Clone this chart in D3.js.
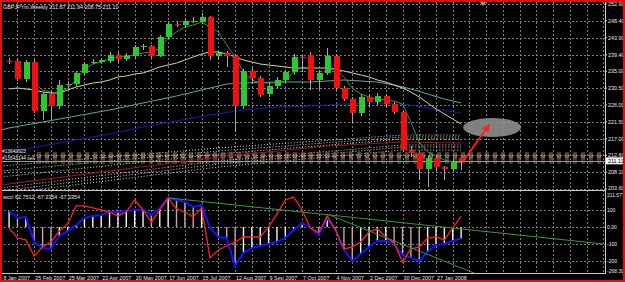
<!DOCTYPE html>
<html>
<head>
<meta charset="utf-8">
<script src="https://cdn.jsdelivr.net/npm/d3@7"></script>
<style>
body { margin: 0; background: #000; overflow: hidden; }
svg { display: block; font-family: "Liberation Sans", Arial, sans-serif; }
</style>
</head>
<body>
<div id="chart"></div>
<script>
const width = 625;
const height = 282;

// weekly candles, [open, high, low, close]
const candles = [
    [237.8, 238.4, 236.9, 237.6], [237.7, 238.5, 232.3, 232.9], [232.9, 238.0, 232.0, 237.4],
    [237.4, 238.2, 223.8, 224.4], [224.4, 229.5, 222.0, 228.9], [228.9, 229.6, 222.0, 225.7],
    [225.7, 232.6, 225.0, 231.3], [231.3, 232.4, 230.6, 231.6], [231.6, 235.0, 231.0, 234.5],
    [234.5, 237.5, 234.0, 236.9], [237.3, 238.3, 236.8, 237.5], [237.4, 238.5, 236.9, 238.0],
    [237.7, 240.0, 237.2, 239.3], [239.3, 240.0, 237.5, 238.2], [238.2, 239.8, 237.6, 239.0],
    [239.0, 242.0, 238.5, 241.4], [241.6, 242.2, 240.6, 241.7], [241.7, 242.0, 238.6, 239.0],
    [239.0, 244.6, 238.7, 244.1], [244.1, 248.0, 243.6, 247.6], [247.6, 248.2, 246.8, 247.3],
    [247.3, 249.0, 246.9, 248.4], [248.3, 249.5, 247.8, 248.4], [248.0, 250.5, 247.6, 249.4],
    [249.4, 249.8, 238.0, 239.0], [239.0, 240.5, 238.0, 239.8], [239.8, 240.3, 236.1, 239.0],
    [239.0, 239.5, 218.8, 225.7], [225.7, 235.5, 224.8, 235.0], [235.0, 235.8, 231.5, 233.2],
    [233.2, 233.8, 228.0, 228.6], [228.9, 232.0, 228.2, 231.0], [231.0, 233.4, 230.5, 232.6],
    [232.6, 235.4, 232.0, 234.8], [234.8, 239.5, 234.0, 238.8], [238.8, 239.4, 234.8, 238.6],
    [239.3, 240.0, 230.0, 232.6], [232.6, 235.2, 230.0, 234.5], [234.5, 241.2, 234.0, 239.0],
    [239.0, 239.5, 230.0, 230.5], [230.5, 231.0, 227.0, 227.6], [227.6, 228.2, 221.2, 223.8],
    [223.8, 229.0, 223.0, 228.1], [228.1, 229.0, 225.5, 226.8], [226.8, 229.3, 226.0, 228.4],
    [228.4, 229.0, 225.5, 226.2], [226.2, 226.8, 223.5, 224.1], [224.1, 224.5, 213.5, 214.0],
    [214.0, 215.0, 212.0, 213.2], [213.2, 213.5, 206.0, 208.9], [208.9, 212.5, 204.1, 211.8],
    [211.8, 212.3, 208.5, 209.4], [209.4, 209.8, 206.0, 208.9], [208.9, 211.5, 208.3, 210.8],
    [211.87, 211.94, 208.75, 211.11]
];

// moving averages, [bar, price]
const maFast = [[3,231.85],[4,229.98],[5,229.45],[6,229.18],[7,230.51],[8,232.65],[9,235.31],[10,236.91],
    [11,237.44],[12,238.24],[13,238.78],[14,239.04],[15,239.31],[16,239.84],[17,240.11],[18,241.17],
    [19,243.84],[20,245.44],[21,246.77],[22,247.3],[23,248.1],[24,246.77],[25,245.44],[26,241.97],
    [27,238.78],[28,234.78],[29,232.65],[30,231.85],[31,231.85],[32,231.85],[33,232.38],[34,234.78],
    [35,236.11],[36,235.84],[37,235.84],[38,235.84],[39,235.31],[40,233.45],[41,230.51],[42,228.92],
    [43,228.12],[44,227.58],[45,227.32],[46,227.05],[47,226.25],[48,221.45],[49,216.12],[50,213.46],
    [51,212.39],[52,211.33],[53,210.79],[54,210.53]];
const maMid = [[0,230.25],[1,230.51],[2,230.25],[3,229.98],[4,229.45],[5,229.18],[6,229.18],[7,229.98],
    [8,230.78],[9,231.31],[10,231.85],[11,232.11],[12,232.65],[13,233.45],[14,233.71],[15,234.25],
    [16,234.51],[17,235.31],[18,236.11],[19,236.64],[20,237.18],[21,237.98],[22,238.78],[23,239.58],
    [24,240.11],[25,240.11],[26,239.58],[27,238.78],[28,237.98],[29,237.44],[30,236.91],[31,236.64],
    [32,236.38],[33,236.11],[34,235.84],[35,235.84],[36,235.84],[37,235.84],[38,235.84],[39,235.58],
    [40,235.05],[41,234.51],[42,233.98],[43,233.45],[44,232.65],[45,232.11],[46,231.31],[47,230.51],
    [48,229.45],[49,228.12],[50,226.52],[51,224.92],[52,223.59],[53,222.25],[54,220.92]];
const maSlow = [[-1,219.32],[0,219.86],[4,221.45],[8,223.05],[12,224.65],[16,226.52],[20,228.38],
    [22,229.45],[24,230.51],[26,231.58],[28,231.85],[32,232.11],[36,232.11],[40,232.65],[44,232.11],
    [46,231.31],[48,230.25],[50,228.92],[52,227.58],[54,226.52]];
const maBlue = [[0,213.46],[4,215.06],[8,216.66],[12,218.26],[16,220.12],[20,221.72],[24,223.32],
    [28,224.65],[32,225.45],[36,225.72],[40,226.25],[44,226.52],[48,225.98],[50,225.19],[52,224.52],[54,223.85]];
const maLong = [[-1,204.66],[25,212.12],[38,215.06],[47,216.12],[54,215.86]];

// dotted envelope lines, prices at bars -1, 25, 47, 54
const envBars = [-1, 25, 47, 54];
const envLines = [
    [209.73, 214.53, 217.99, 217.99],
    [208.40, 213.73, 217.46, 217.46],
    [206.80, 212.93, 216.92, 216.92],
    [203.87, 211.06, 215.33, 215.33],
    [203.07, 210.26, 214.79, 214.79],
    [202.27, 209.46, 213.99, 213.99]
];

// order levels
const orderLevels = [213.19, 212.66, 212.12, 211.59, 211.06, 210.53];
const orderColors = ["#b8703a", "#d9a07a", "#e8d2bc", "#b8703a", "#94502c", "#4c8c3c"];

// wcci indicator
const wcciTrend = [94,53,59,-88,-124,-129,-53,-24,12,53,65,71,88,88,94,100,100,71,112,171,159,147,118,129,
    -6,-59,-65,-229,-153,-124,-112,-100,-88,-65,-18,24,-6,-47,53,-18,-135,-200,-159,-118,-82,-82,-100,
    -165,-182,-200,-147,-106,-100,-82,-67.34];
const wcciFast = [-6,-65,-76,-171,-118,-88,-24,18,124,124,112,100,88,65,88,159,100,29,100,171,106,88,59,112,
    -182,-135,-112,-88,-59,-59,-59,0,76,159,176,100,-6,-35,65,-18,-129,-118,-88,-29,-12,-59,-94,
    -206,-129,-118,-65,-59,-76,-6,62.75];
const trendLines = [[[19, 171], [71, -100]], [[38, 76], [56, -280]]];

// axis labels
const priceTicks = [252.90, 248.40, 243.90, 239.40, 235.00, 230.50, 226.00, 221.50, 217.00, 212.60, 208.10, 203.60];
const wcciTicks = [211.577, 100, 0, -100, -200, -268.30];
const wcciTickText = ["211.577", "100", "0.00", "-100", "-200", "-268.30"];
const dateLabels = ["8 Jan 2007", "25 Feb 2007", "25 Mar 2007", "22 Apr 2007", "20 May 2007", "17 Jun 2007",
    "15 Jul 2007", "12 Aug 2007", "9 Sep 2007", "7 Oct 2007", "4 Nov 2007", "2 Dec 2007", "30 Dec 2007", "27 Jan 2008"];
const dateBars = [-0.8, 3, 7, 11, 15, 19, 23, 27, 31, 35, 39, 43, 47, 51];

const lastPrice = 211.11;
const ellipseAt = [57.7, 220.0];
const arrowFrom = [54.2, 210.8];
const arrowTo = [57.3, 220.6];

const x = d3.scaleLinear().domain([0, 71]).range([9.1, 603.4]);
const y = d3.scaleLinear().domain([203.6, 252.9]).range([189, 4]);
const yi = d3.scaleLinear().domain([-268.3, 211.577]).range([272.6, 191]);
const axisX = 605;

const svg = d3.select("#chart")
    .append("svg")
    .attr("width", width)
    .attr("height", height);

svg.append("rect").attr("width", width).attr("height", height).attr("fill", "#000");

const defs = svg.append("defs");
defs.append("clipPath").attr("id", "pclip")
    .append("rect").attr("x", 0).attr("y", 2).attr("width", axisX).attr("height", 188);
defs.append("clipPath").attr("id", "iclip")
    .append("rect").attr("x", 0).attr("y", 191).attr("width", axisX).attr("height", 82);
defs.append("marker").attr("id", "head")
    .attr("viewBox", "0 0 10 10").attr("refX", 8).attr("refY", 5)
    .attr("markerWidth", 4).attr("markerHeight", 4).attr("orient", "auto")
    .append("path").attr("d", "M0,0L10,5L0,10z").attr("fill", "#ff2020");

// grid
const grid = svg.append("g").attr("stroke", "#7a7a7a").attr("stroke-dasharray", "2,2")
    .attr("shape-rendering", "crispEdges");
for (let k = 1; k <= 71; k += 2) {
    if (x(k) + 1 >= axisX) break;
    grid.append("line").attr("x1", Math.round(x(k)) + 0.5).attr("x2", Math.round(x(k)) + 0.5)
        .attr("y1", 2).attr("y2", 273);
}
priceTicks.forEach(p => {
    grid.append("line").attr("x1", 0).attr("x2", axisX)
        .attr("y1", Math.round(y(p)) + 0.5).attr("y2", Math.round(y(p)) + 0.5);
});
[100, 0, -100, -200].forEach(v => {
    grid.append("line").attr("x1", 0).attr("x2", axisX)
        .attr("y1", Math.round(yi(v)) + 0.5).attr("y2", Math.round(yi(v)) + 0.5);
});

const price = svg.append("g").attr("clip-path", "url(#pclip)");
const line = d3.line().x(d => x(d[0])).y(d => y(d[1]));

// envelope
envLines.forEach(vals => {
    price.append("path")
        .attr("d", line(vals.map((v, i) => [envBars[i], v])))
        .attr("fill", "none").attr("stroke", "#d8d8d8")
        .attr("stroke-width", 1).attr("stroke-dasharray", "1,2");
});

// order levels
orderLevels.forEach((p, i) => {
    price.append("line")
        .attr("x1", 37).attr("x2", axisX)
        .attr("y1", y(p)).attr("y2", y(p))
        .attr("stroke", orderColors[i]).attr("stroke-width", 1.1)
        .attr("stroke-dasharray", "4,4");
});
price.append("line").attr("x1", 0).attr("x2", axisX)
    .attr("y1", Math.round(y(lastPrice)) + 0.5).attr("y2", Math.round(y(lastPrice)) + 0.5)
    .attr("stroke", "#9a9a9a").attr("stroke-width", 1);

// moving averages
[[maLong, "#a01818"], [maBlue, "#1c1cb4"], [maSlow, "#5fa8a8"], [maMid, "#d8d490"], [maFast, "#3c963c"]]
    .forEach(([data, color]) => {
        price.append("path").attr("d", line(data))
            .attr("fill", "none").attr("stroke", color).attr("stroke-width", 1);
    });

// candles
const bars = price.append("g").attr("shape-rendering", "crispEdges");
candles.forEach((c, i) => {
    const [o, h, l, cl] = c;
    const cx = Math.round(x(i));
    bars.append("line").attr("x1", cx + 0.5).attr("x2", cx + 0.5)
        .attr("y1", y(h)).attr("y2", y(l)).attr("stroke", "#a8a8a8");
    const top = y(Math.max(o, cl));
    const bot = y(Math.min(o, cl));
    bars.append("rect")
        .attr("x", cx - 2).attr("width", 6)
        .attr("y", top).attr("height", Math.max(1, bot - top))
        .attr("fill", cl >= o ? "#2ec82e" : "#f01010");
});

// annotation
price.append("ellipse")
    .attr("cx", x(ellipseAt[0])).attr("cy", y(ellipseAt[1]))
    .attr("rx", 29).attr("ry", 9.5)
    .attr("fill", "#8e8e8e").attr("opacity", 0.9);
price.append("line")
    .attr("x1", x(arrowFrom[0])).attr("y1", y(arrowFrom[1]))
    .attr("x2", x(arrowTo[0])).attr("y2", y(arrowTo[1]))
    .attr("stroke", "#ff2020").attr("stroke-width", 2)
    .attr("marker-end", "url(#head)");

// shift marker
svg.append("path").attr("d", "M480,2L486,2L483,6z").attr("fill", "#9a9a9a");

// indicator
const ind = svg.append("g").attr("clip-path", "url(#iclip)");
wcciTrend.forEach((v, i) => {
    const up = i === 0 || v >= wcciTrend[i - 1];
    ind.append("line")
        .attr("x1", x(i)).attr("x2", x(i))
        .attr("y1", yi(0)).attr("y2", yi(v))
        .attr("stroke", up ? "#f4f4f4" : "#c9a5a5").attr("stroke-width", 1.4);
});
const iline = d3.line().x((d, i) => x(i)).y(d => yi(d));
ind.append("path").attr("d", iline(wcciTrend))
    .attr("fill", "none").attr("stroke", "#1414ff").attr("stroke-width", 2);
ind.append("path").attr("d", iline(wcciFast))
    .attr("fill", "none").attr("stroke", "#ff2020").attr("stroke-width", 1.3);
trendLines.forEach(t => {
    ind.append("line")
        .attr("x1", x(t[0][0])).attr("y1", yi(t[0][1]))
        .attr("x2", x(t[1][0])).attr("y2", yi(t[1][1]))
        .attr("stroke", "#3c963c").attr("stroke-width", 1);
});

// separators and axis line
svg.append("line").attr("x1", 0).attr("x2", axisX).attr("y1", 190.5).attr("y2", 190.5).attr("stroke", "#c8c8c8");
svg.append("line").attr("x1", 0).attr("x2", axisX).attr("y1", 273.5).attr("y2", 273.5).attr("stroke", "#c8c8c8");
svg.append("line").attr("x1", axisX + 0.5).attr("x2", axisX + 0.5).attr("y1", 0).attr("y2", 274).attr("stroke", "#d0d0d0");

// text
const txt = svg.append("g").attr("fill", "#e8e8e8").attr("font-size", 5.4);
txt.append("text").attr("x", 3).attr("y", 9).text("GBPJPYm,Weekly  211.87 211.94 208.75 211.11");
txt.append("text").attr("x", 3).attr("y", 199).text("wcci 62.7512 -67.3354 -67.3354");
txt.append("text").attr("x", 2).attr("y", 153).attr("font-size", 4.8).text("#13642923");
txt.append("text").attr("x", 2).attr("y", 160).attr("font-size", 4.8).text("#13643144 sell");

priceTicks.forEach(p => {
    svg.append("line").attr("x1", axisX).attr("x2", axisX + 2).attr("y1", y(p)).attr("y2", y(p)).attr("stroke", "#d0d0d0");
    txt.append("text").attr("x", axisX + 3).attr("y", Math.min(y(p) + 2, 189.5)).text(p.toFixed(2));
});
wcciTicks.forEach((v, i) => {
    const ty = i === 0 ? 196.5 : Math.min(yi(v) + 2, 273);
    txt.append("text").attr("x", axisX + 2).attr("y", ty).attr("font-size", 5).text(wcciTickText[i]);
});
svg.append("rect").attr("x", axisX + 1).attr("y", y(lastPrice) - 3.5).attr("width", 17).attr("height", 7)
    .attr("fill", "#f4f4f4");
svg.append("text").attr("x", axisX + 3).attr("y", y(lastPrice) + 2).attr("font-size", 5.4)
    .attr("fill", "#000").text(lastPrice.toFixed(2));

dateLabels.forEach((d, i) => {
    txt.append("text").attr("x", x(dateBars[i]) + 1).attr("y", 280).text(d);
});

// frame
svg.append("rect").attr("x", 1).attr("y", 1).attr("width", width - 2).attr("height", height - 2)
    .attr("fill", "none").attr("stroke", "#e01010").attr("stroke-width", 2);
</script>
</body>
</html>
